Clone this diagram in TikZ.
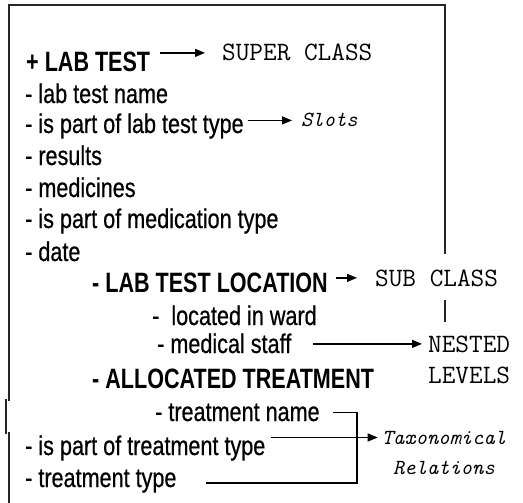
\documentclass[tikz,border=0pt]{standalone}
\usepackage{fontspec}
\setmainfont{Liberation Sans}[FakeStretch=0.8, FakeBold=0.6]
\newfontfamily\headfont{Liberation Sans}[FakeStretch=0.77]
\usetikzlibrary{arrows.meta}
\tikzset{
  slot/.style={anchor=base west, inner sep=0pt, font=\fontsize{27}{27}\selectfont},
  head/.style={anchor=base west, inner sep=0pt, font=\headfont\bfseries\fontsize{28}{28}\selectfont},
  tag/.style={anchor=base west, inner sep=0pt, font=\ttfamily\addfontfeatures{FakeBold=1.2}\fontsize{26.5}{26.5}\selectfont},
  itag/.style={inner sep=0pt, font=\ttfamily\itshape\addfontfeatures{FakeBold=1.2}\fontsize{21.5}{21.5}\selectfont},
  arr/.style={line width=1.3pt, -{Triangle[length=10pt,width=8pt]}},
  link/.style={line width=1.3pt},
  frame/.style={line width=1.6pt, black!85},
}
\begin{document}
\begin{tikzpicture}[x=1pt,y=-1pt]
\useasboundingbox (0,0) rectangle (523,503);

% frame around the class listing (open on the right beside the labels)
\draw[frame] (9,401) -- (9,5) -- (445,5) -- (445,254);
\draw[frame] (445,300) -- (445,322);
\draw[frame] (6,399) -- (6,434);
\draw[frame] (9,432) -- (9,503);

% class and its slots
\node[head] (labtest) at (26,72)  {+ LAB TEST};
\node[slot] (s1) at (25,103) {- lab test name};
\node[slot] (s2) at (25,133) {- is part of lab test type};
\node[slot] (s3) at (25,165) {- results};
\node[slot] (s4) at (25,197) {- medicines};
\node[slot] (s5) at (25,228) {- is part of medication type};
\node[slot] (s6) at (25,261) {- date};
\node[head] (loc) at (92,292) {- LAB TEST LOCATION};
\node[slot] (l1) at (152,325) {-\ \ located in ward};
\node[slot] (l2) at (157,353) {- medical staff};
\node[head] (alloc) at (92,388) {- ALLOCATED TREATMENT};
\node[slot] (t1) at (155,421) {- treatment name};
\node[slot] (t2) at (25,455) {- is part of treatment type};
\node[slot] (t3) at (25,487) {- treatment type};

% explanatory labels
\node[tag] (super) at (222,61) {SUPER CLASS};
\node[itag, anchor=base west] (slots) at (301,127) {Slots};
\node[tag] (sub) at (375,286) {SUB CLASS};
\node[tag] (nested) at (428,352) {NESTED};
\node[tag] (levels) at (428,383) {LEVELS};
\node[itag, anchor=base] (tax) at (444,444) {Taxonomical};
\node[itag, anchor=base] (rel) at (444,474) {Relations};

% pointers
\draw[arr, shorten <=10pt, shorten >=17pt] (labtest.east |- super.west) -- (super.west);
\draw[arr, shorten <=4pt, shorten >=9pt] (s2.east |- slots.west) -- (slots.west);
\draw[arr, shorten <=8pt, shorten >=18pt] (loc.east |- sub.west) -- (sub.west);
\draw[arr, shorten <=22pt, shorten >=6pt] (l2.east |- nested.west) -- (nested.west);

% taxonomical bracket
\coordinate (corner) at (357,483);
\draw[link, shorten >=29pt] ([xshift=13pt]t1.east) -| (corner) -- (corner -| t3.east);
\draw[arr, shorten <=5pt, shorten >=4pt] (t2.east |- tax.west) -- (tax.west);
\end{tikzpicture}
\end{document}
